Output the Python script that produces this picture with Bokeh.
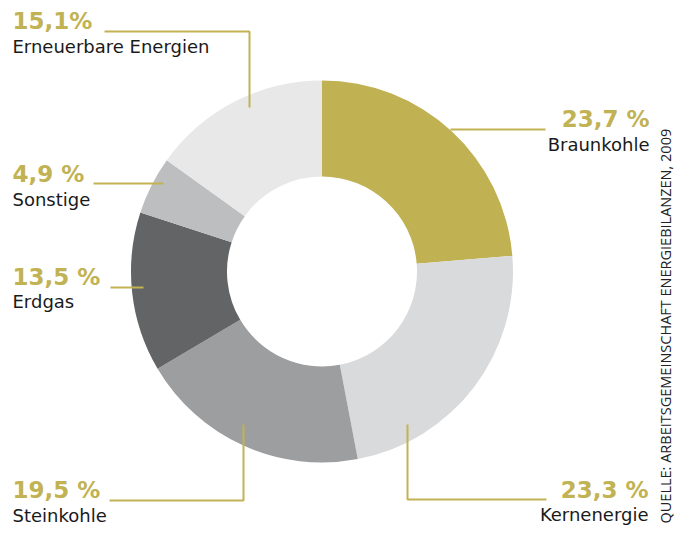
import math
from bokeh.plotting import figure
from bokeh.models import Range1d, ColumnDataSource
from bokeh.core.properties import value
from bokeh.embed import file_html
from bokeh.resources import INLINE

# Data
categories = ["Braunkohle", "Kernenergie", "Steinkohle", "Erdgas", "Sonstige", "Erneuerbare Energien"]
shares = [23.7, 23.3, 19.5, 13.5, 4.9, 15.1]
pct_labels = ["23,7 %", "23,3 %", "19,5 %", "13,5 %", "4,9 %", "15,1%"]
colors = ["#c0b152", "#d9dadc", "#9d9ea0", "#636466", "#bdbec0", "#e8e8e8"]
source_text = "QUELLE: ARBEITSGEMEINSCHAFT ENERGIEBILANZEN, 2009"

GOLD = "#c1b253"
DARK = "#1a1a1a"
W, H = 676, 526
PCT_FS, NAME_FS = 23, 18
K = 0.38  # baseline correction (fraction of font size)


def Y(y):
    return H - y


p = figure(width=W, height=H, output_backend="svg", toolbar_location=None,
           x_range=Range1d(0, W), y_range=Range1d(0, H),
           min_border=0, outline_line_color=None, background_fill_color="white")
p.axis.visible = False
p.grid.visible = False

# Donut wedges
total = sum(shares)
starts, ends = [], []
cum = 0.0
for s in shares:
    starts.append(math.pi / 2 - 2 * math.pi * cum / total)
    cum += s
    ends.append(math.pi / 2 - 2 * math.pi * cum / total)

src = ColumnDataSource(dict(start=starts, end=ends, color=colors, cat=categories))
p.annular_wedge(x=321.5, y=Y(271), inner_radius=95, outer_radius=191,
                start_angle="start", end_angle="end", direction="clock",
                fill_color="color", line_color=None, source=src)

# Leader lines
leaders = [
    ([104, 249, 249], [31, 31, 107]),      # Erneuerbare
    ([450, 545], [129, 129]),              # Braunkohle
    ([93, 163], [183, 183]),               # Sonstige
    ([110, 143], [287, 287]),              # Erdgas
    ([109, 243, 243], [500, 500, 424]),    # Steinkohle
    ([407, 407, 546], [424, 499, 499]),    # Kernenergie
]
for xs, ys in leaders:
    p.line(xs, [Y(v) for v in ys], line_color=GOLD, line_width=2)

# Label placement: (x, pct baseline, name baseline, align) -- visual baselines
place = {
    "Braunkohle": (649, 127, 151, "right"),
    "Kernenergie": (648, 498, 521, "right"),
    "Steinkohle": (12, 498, 522, "left"),
    "Erdgas": (12, 285, 308, "left"),
    "Sonstige": (12, 182, 206, "left"),
    "Erneuerbare Energien": (12, 29, 53, "left"),
}
for cat, pl in zip(categories, pct_labels):
    x, yb1, yb2, al = place[cat]
    p.text(x=[x], y=[Y(yb1 - K * PCT_FS)], text=[pl], text_color=GOLD,
           text_font=value("DejaVu Sans"), text_font_style="bold",
           text_font_size=f"{PCT_FS}px", text_align=al, text_baseline="alphabetic")
    p.text(x=[x], y=[Y(yb2 - K * NAME_FS)], text=[cat], text_color=DARK,
           text_font=value("DejaVu Sans"), text_font_size=f"{NAME_FS}px",
           text_align=al, text_baseline="alphabetic")

# Source text, rotated
p.text(x=[665], y=[Y(523)], text=[source_text], angle=math.pi / 2,
       text_color="#222222", text_font=value("Open Sans"),
       text_font_size="14.5px", text_align="left", text_baseline="alphabetic")

open("out.html", "w").write(file_html(p, INLINE))
